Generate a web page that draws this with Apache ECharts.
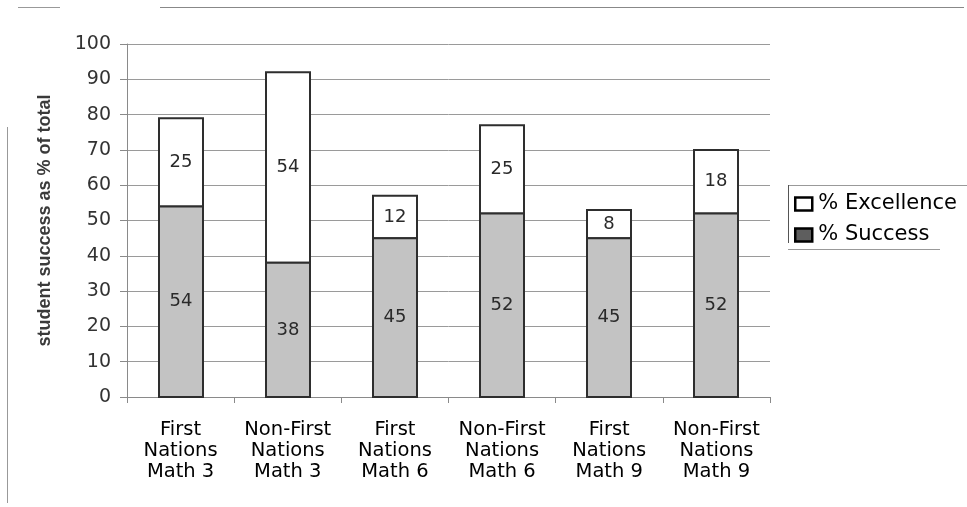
<!DOCTYPE html>
<html>
<head>
<meta charset="utf-8">
<title>Student success in mathematics</title>
<script src="https://cdn.jsdelivr.net/npm/echarts@6/dist/echarts.min.js"></script>
<style>
  html, body { margin: 0; padding: 0; background: #fff; }
  #chart { width: 967px; height: 507px; }
</style>
</head>
<body>
<div id="chart"></div>
<script>
// Categories along the x axis
const categories = [
  'First\nNations\nMath 3',
  'Non-First\nNations\nMath 3',
  'First\nNations\nMath 6',
  'Non-First\nNations\nMath 6',
  'First\nNations\nMath 9',
  'Non-First\nNations\nMath 9'
];
// Stacked series values (percent of total)
const successValues = [54, 38, 45, 52, 45, 52];
const excellenceValues = [25, 54, 12, 25, 8, 18];
// Legend entries
const legendNames = ['% Excellence', '% Success'];
// Value-axis range
const yMin = 0, yMax = 100, yStep = 10;

const FONT = '"DejaVu Sans", Verdana, sans-serif';
const BAR_RATIO = 0.41;
const chart = echarts.init(document.getElementById('chart'), null, { renderer: 'canvas' });

// Each stacked segment: [category index, bottom, top, value]
const successData = successValues.map((v, i) => [i, 0, v, v]);
const excellenceData = excellenceValues.map((v, i) => [i, successValues[i], successValues[i] + v, v]);

// Draws one segment with its border centred on the edge, so adjoining
// segments share a single boundary line.
function segment(fill) {
  return function (params, api) {
    const i = api.value(0);
    const bottom = api.coord([i, api.value(1)]);
    const top = api.coord([i, api.value(2)]);
    const w = api.size([1, 0])[0] * BAR_RATIO;
    const x = Math.round(bottom[0] - w / 2);
    return {
      type: 'rect',
      shape: { x: x, y: top[1], width: Math.round(w), height: bottom[1] - top[1] },
      style: { fill: fill, stroke: '#2e2e2e', lineWidth: 2 },
      textContent: {
        style: {
          text: String(api.value(3)),
          fill: '#2a2a2a',
          fontSize: 18,
          fontFamily: FONT
        }
      },
      textConfig: { position: 'inside' }
    };
  };
}

chart.setOption({
  animation: false,
  backgroundColor: '#ffffff',
  grid: { left: 127, right: 197, top: 44, bottom: 110, containLabel: false },
  legend: {
    orient: 'vertical',
    left: 789,
    top: 188,
    itemWidth: 17,
    itemHeight: 13,
    itemGap: 9,
    icon: 'rect',
    textStyle: { color: '#000', fontSize: 21, fontFamily: FONT, lineHeight: 22, padding: [0, 0, 0, 1] },
    data: [
      { name: legendNames[0], itemStyle: { color: '#fff', borderColor: '#000', borderWidth: 2.5 } },
      { name: legendNames[1], itemStyle: { color: '#5e5e5e', borderColor: '#000', borderWidth: 2.5 } }
    ]
  },
  xAxis: {
    type: 'category',
    data: categories,
    boundaryGap: true,
    axisLine: { lineStyle: { color: '#8a8a8a', width: 1 } },
    axisTick: { show: true, length: 6, lineStyle: { color: '#8a8a8a' } },
    axisLabel: {
      color: '#000',
      fontSize: 19.5,
      fontFamily: FONT,
      lineHeight: 21,
      margin: 22,
      interval: 0
    }
  },
  yAxis: {
    type: 'value',
    min: yMin,
    max: yMax,
    interval: yStep,
    name: 'student success as % of total',
    nameLocation: 'middle',
    nameGap: 73,
    nameTextStyle: { color: '#3a3a3a', fontSize: 18, fontWeight: 'bold', fontFamily: '"Liberation Sans", Arial, sans-serif' },
    axisLine: { show: true, lineStyle: { color: '#8a8a8a', width: 1 } },
    axisTick: { show: true, length: 7, lineStyle: { color: '#8a8a8a' } },
    axisLabel: { color: '#333', fontSize: 19, fontFamily: FONT, margin: 16 },
    splitLine: { show: true, lineStyle: { color: '#9a9a9a', width: 1 } }
  },
  series: [
    {
      name: legendNames[0],
      type: 'custom',
      renderItem: segment('#ffffff'),
      encode: { x: 0, y: [1, 2] },
      data: excellenceData,
      z: 2
    },
    {
      name: legendNames[1],
      type: 'custom',
      renderItem: segment('#c3c3c3'),
      encode: { x: 0, y: [1, 2] },
      data: successData,
      z: 3
    }
  ],
  graphic: [
    // frame rules around the figure
    { type: 'line', shape: { x1: 18, y1: 7.5, x2: 60, y2: 7.5 }, style: { stroke: '#999', lineWidth: 1 } },
    { type: 'line', shape: { x1: 160, y1: 7.5, x2: 964, y2: 7.5 }, style: { stroke: '#888', lineWidth: 1.2 } },
    { type: 'line', shape: { x1: 7.5, y1: 127, x2: 7.5, y2: 503 }, style: { stroke: '#999', lineWidth: 1 } },
    // legend box edges
    { type: 'line', shape: { x1: 788, y1: 185.5, x2: 967, y2: 185.5 }, style: { stroke: '#999', lineWidth: 1 } },
    { type: 'line', shape: { x1: 788.5, y1: 185, x2: 788.5, y2: 243 }, style: { stroke: '#555', lineWidth: 1 } },
    { type: 'line', shape: { x1: 788, y1: 249.5, x2: 940, y2: 249.5 }, style: { stroke: '#999', lineWidth: 1 } }
  ]
});
</script>
</body>
</html>
